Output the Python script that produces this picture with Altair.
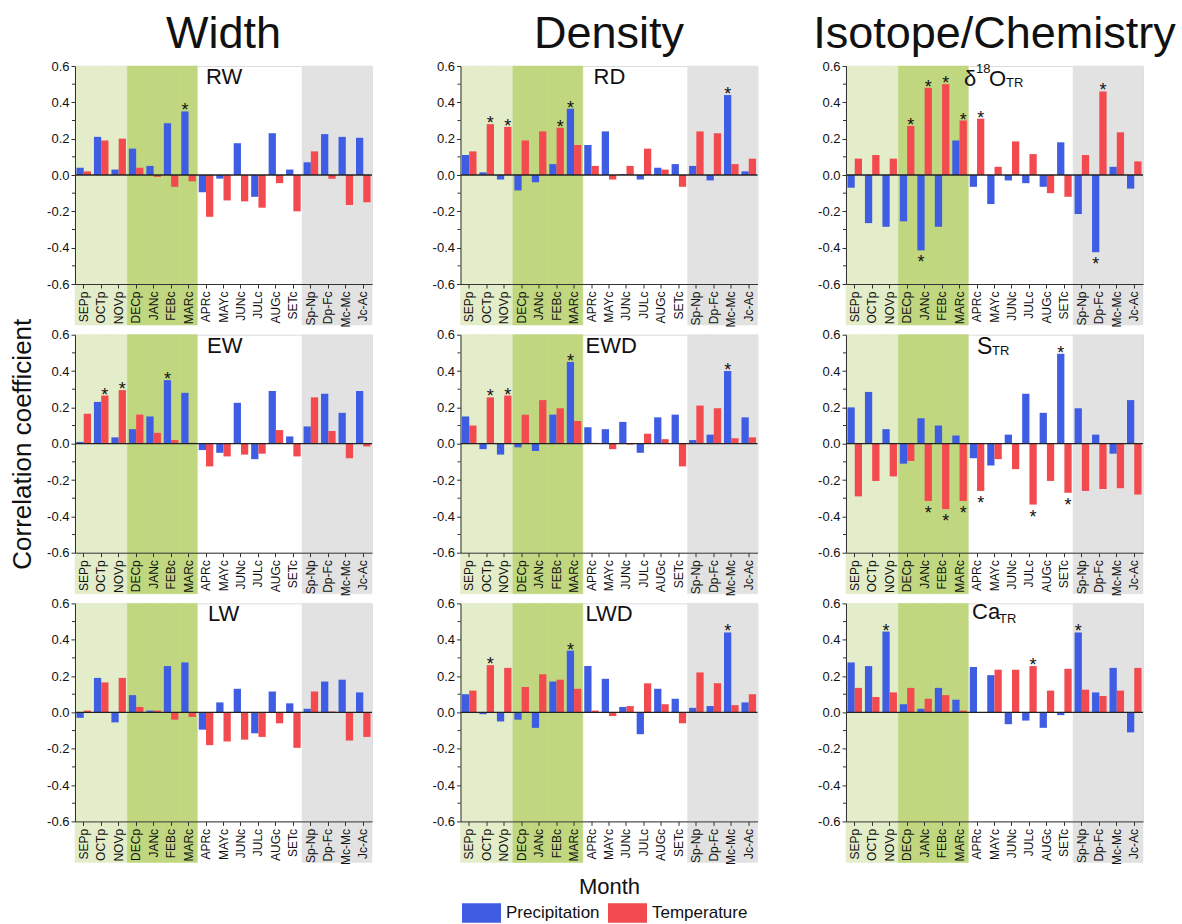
import altair as alt
import pandas as pd

# ---------------- data ----------------
months = ["SEPp", "OCTp", "NOVp", "DECp", "JANc", "FEBc", "MARc", "APRc", "MAYc",
          "JUNc", "JULc", "AUGc", "SETc", "Sp-Np", "Dp-Fc", "Mc-Mc", "Jc-Ac"]
zones = ["light"] * 3 + ["dark"] * 4 + ["white"] * 6 + ["grey"] * 4
series = ["Precipitation", "Temperature"]

rw_prec = [0.04, 0.21, 0.03, 0.145, 0.05, 0.285, 0.35, -0.095, -0.02, 0.175, -0.12, 0.23, 0.03, 0.07, 0.225, 0.21, 0.205]
rw_temp = [0.02, 0.19, 0.20, 0.04, -0.01, -0.065, -0.035, -0.23, -0.14, -0.145, -0.18, -0.045, -0.20, 0.13, -0.02, -0.165, -0.15]
rw_sig_prec = ["MARc"]
rw_sig_temp = []

rd_prec = [0.11, 0.015, -0.025, -0.085, -0.04, 0.06, 0.365, 0.165, 0.24, 0.005, -0.025, 0.04, 0.06, 0.05, -0.03, 0.44, 0.02]
rd_temp = [0.13, 0.28, 0.265, 0.19, 0.24, 0.26, 0.165, 0.05, -0.025, 0.05, 0.145, 0.03, -0.065, 0.24, 0.23, 0.06, 0.09]
rd_sig_prec = ["MARc", "Mc-Mc"]
rd_sig_temp = ["OCTp", "NOVp", "FEBc"]

o18_prec = [-0.07, -0.265, -0.285, -0.255, -0.415, -0.285, 0.19, -0.065, -0.16, -0.03, -0.045, -0.065, 0.18, -0.215, -0.425, 0.045, -0.075]
o18_temp = [0.09, 0.11, 0.09, 0.27, 0.48, 0.50, 0.30, 0.31, 0.045, 0.185, 0.115, -0.10, -0.12, 0.11, 0.46, 0.235, 0.075]
o18_sig_prec = ["JANc", "Dp-Fc"]
o18_sig_temp = ["DECp", "JANc", "FEBc", "MARc", "APRc", "Dp-Fc"]

ew_prec = [0.01, 0.23, 0.035, 0.08, 0.15, 0.35, 0.28, -0.035, -0.05, 0.225, -0.085, 0.29, 0.04, 0.095, 0.275, 0.17, 0.29]
ew_temp = [0.165, 0.265, 0.295, 0.16, 0.06, 0.02, 0.005, -0.125, -0.07, -0.06, -0.055, 0.075, -0.07, 0.255, 0.07, -0.08, -0.015]
ew_sig_prec = ["FEBc"]
ew_sig_temp = ["OCTp", "NOVp"]

ewd_prec = [0.15, -0.03, -0.06, -0.02, -0.04, 0.16, 0.45, 0.09, 0.08, 0.12, -0.05, 0.145, 0.16, 0.02, 0.05, 0.40, 0.145]
ewd_temp = [0.10, 0.255, 0.265, 0.16, 0.24, 0.195, 0.125, 0.005, -0.03, -0.005, 0.055, 0.025, -0.125, 0.21, 0.195, 0.03, 0.035]
ewd_sig_prec = ["MARc", "Mc-Mc"]
ewd_sig_temp = ["OCTp", "NOVp"]

s_prec = [0.20, 0.285, 0.08, -0.11, 0.14, 0.10, 0.045, -0.08, -0.12, 0.05, 0.275, 0.17, 0.495, 0.195, 0.05, -0.055, 0.24]
s_temp = [-0.29, -0.205, -0.18, -0.095, -0.315, -0.36, -0.315, -0.26, -0.085, -0.14, -0.335, -0.205, -0.27, -0.26, -0.25, -0.245, -0.28]
s_sig_prec = ["SETc"]
s_sig_temp = ["JANc", "FEBc", "MARc", "APRc", "JULc", "SETc"]

lw_prec = [-0.03, 0.19, -0.055, 0.095, 0.01, 0.255, 0.275, -0.095, 0.055, 0.13, -0.115, 0.115, 0.05, 0.02, 0.17, 0.18, 0.11]
lw_temp = [0.01, 0.165, 0.19, 0.03, 0.01, -0.04, -0.025, -0.18, -0.16, -0.15, -0.135, -0.06, -0.195, 0.115, 0.005, -0.155, -0.135]
lw_sig_prec = []
lw_sig_temp = []

lwd_prec = [0.10, -0.01, -0.05, -0.04, -0.085, 0.17, 0.34, 0.255, 0.185, 0.03, -0.12, 0.13, 0.075, 0.025, 0.035, 0.44, 0.055]
lwd_temp = [0.12, 0.26, 0.245, 0.14, 0.21, 0.18, 0.13, 0.01, -0.02, 0.035, 0.16, 0.045, -0.06, 0.22, 0.16, 0.04, 0.10]
lwd_sig_prec = ["MARc", "Mc-Mc"]
lwd_sig_temp = ["OCTp"]

ca_prec = [0.275, 0.255, 0.445, 0.045, 0.02, 0.135, 0.07, 0.25, 0.205, -0.065, -0.045, -0.085, -0.015, 0.44, 0.11, 0.245, -0.11]
ca_temp = [0.135, 0.085, 0.11, 0.135, 0.075, 0.095, 0.01, 0.0, 0.235, 0.235, 0.255, 0.12, 0.24, 0.125, 0.09, 0.12, 0.245]
ca_sig_prec = ["NOVp", "Sp-Np"]
ca_sig_temp = ["JULc"]

column_titles = ["Width", "Density", "Isotope/Chemistry"]
y_ticks = [-0.6, -0.4, -0.2, 0.0, 0.2, 0.4, 0.6]
y_minor = [-0.5, -0.3, -0.1, 0.1, 0.3, 0.5]

# ---------------- style ----------------
BLUE = "#3f5de2"
RED = "#f24a4e"
LIGHT = "#e3edc9"
DARK = "#c0d780"
GREY = "#e2e2e2"
AX = "#333333"
FONT = "Liberation Sans"
W, H = 297, 218
SHADE_EXTRA = 41

xscale = alt.Scale(domain=months, paddingInner=0, paddingOuter=0)
oscale = alt.Scale(domain=series, paddingInner=0, paddingOuter=0.2)
yscale = alt.Scale(domain=[-0.6, 0.6], nice=False, zero=False)
LEG = alt.Legend(title=None, orient="none", legendX=387, legendY=827, direction="horizontal",
                 symbolType="M-1,-0.5H1V0.5H-1Z", symbolSize=1521, symbolStrokeWidth=0,
                 labelFontSize=17, labelFont=FONT, labelColor="#111111", labelOffset=5,
                 columnPadding=8)
cenc = alt.Color("series:N", scale=alt.Scale(domain=series, range=[BLUE, RED]), legend=LEG)


def build_panel(prec, temp, sig_p, sig_t, labels, title=None, ytitle=None, xtitle=None):
    rows = []
    for m, p, t in zip(months, prec, temp):
        rows.append({"month": m, "series": "Precipitation", "value": p, "sig": m in sig_p})
        rows.append({"month": m, "series": "Temperature", "value": t, "sig": m in sig_t})
    df = pd.DataFrame(rows)
    bg = pd.DataFrame({"month": months, "zone": zones})

    xaxis = alt.Axis(title=xtitle, labelAngle=-90, labelFontSize=12, labelFont=FONT,
                     labelColor="#111111", tickSize=4, tickColor=AX, domainColor=AX,
                     labelPadding=3, zindex=1, titleFontSize=22, titleFont=FONT,
                     titleFontWeight="normal", titleColor="#111111", titlePadding=12)
    yaxis = alt.Axis(title=ytitle, values=y_ticks, grid=False, labelFontSize=13, labelFont=FONT,
                     labelColor="#111111", tickSize=4, tickColor=AX, domainColor=AX,
                     labelPadding=2, zindex=1,
                     labelExpr="datum.value < 0 ? '-' + format(-datum.value, '.1f') : format(datum.value, '.1f')",
                     titleFontSize=26, titleFont=FONT, titleFontWeight="normal",
                     titleColor="#111111", titlePadding=11)
    xenc = alt.X("month:N", scale=xscale, axis=xaxis)
    oenc = alt.XOffset("series:N", scale=oscale)
    yenc = alt.Y("value:Q", scale=yscale, axis=yaxis)

    layers = []
    for zone, col in [("light", LIGHT), ("dark", DARK), ("grey", GREY)]:
        layers.append(
            alt.Chart(bg).mark_rect(color=col, stroke=col, strokeWidth=0.6)
            .encode(x=xenc, y=alt.value(0), y2=alt.value(H + SHADE_EXTRA))
            .transform_filter(alt.datum.zone == zone)
        )
    layers.append(
        alt.Chart(pd.DataFrame({"value": y_minor})).mark_rule(color=AX, strokeWidth=1)
        .encode(y=yenc, x=alt.value(-3), x2=alt.value(0))
    )
    layers.append(
        alt.Chart(df).mark_bar().encode(x=xenc, xOffset=oenc, y=yenc, color=cenc)
    )
    layers.append(
        alt.Chart(pd.DataFrame({"value": [0.0]})).mark_rule(color="#222222", strokeWidth=1.3)
        .encode(y=yenc)
    )
    stars = df[df["sig"]]
    layers.append(
        alt.Chart(stars[stars["value"] > 0]).mark_text(text="*", fontSize=18, font=FONT, dy=5,
                                                       baseline="alphabetic", color="#111111")
        .encode(x=xenc, xOffset=oenc, y=yenc)
    )
    layers.append(
        alt.Chart(stars[stars["value"] < 0]).mark_text(text="*", fontSize=18, font=FONT, dy=18,
                                                       baseline="alphabetic", color="#111111")
        .encode(x=xenc, xOffset=oenc, y=yenc)
    )
    for txt, px, py, fs in labels:
        layers.append(
            alt.Chart(pd.DataFrame({"t": [txt]})).mark_text(align="left", baseline="alphabetic",
                                                            fontSize=fs, font=FONT, color="#111111")
            .encode(text="t:N", x=alt.value(px), y=alt.value(py))
        )
    props = dict(width=W, height=H)
    if title is not None:
        props["title"] = alt.TitleParams(title, fontSize=45, font=FONT, fontWeight="normal",
                                         anchor="middle", frame="group", offset=3, color="#111111")
    return alt.layer(*layers).properties(**props)


panels = [
    build_panel(rw_prec, rw_temp, rw_sig_prec, rw_sig_temp, [("RW", 131, 18, 22)], title=column_titles[0]),
    build_panel(rd_prec, rd_temp, rd_sig_prec, rd_sig_temp, [("RD", 133, 18, 22)], title=column_titles[1]),
    build_panel(o18_prec, o18_temp, o18_sig_prec, o18_sig_temp,
                [("δ", 118, 20, 22), ("18", 130, 7, 13), ("O", 143, 20, 22), ("TR", 160, 21, 13)],
                title=column_titles[2]),
    build_panel(ew_prec, ew_temp, ew_sig_prec, ew_sig_temp, [("EW", 132, 18, 22)],
                ytitle="Correlation coefficient"),
    build_panel(ewd_prec, ewd_temp, ewd_sig_prec, ewd_sig_temp, [("EWD", 125, 18, 22)]),
    build_panel(s_prec, s_temp, s_sig_prec, s_sig_temp, [("S", 131, 19, 23), ("TR", 146, 20, 13)]),
    build_panel(lw_prec, lw_temp, lw_sig_prec, lw_sig_temp, [("LW", 133, 18, 22)]),
    build_panel(lwd_prec, lwd_temp, lwd_sig_prec, lwd_sig_temp, [("LWD", 125, 18, 22)], xtitle="Month"),
    build_panel(ca_prec, ca_temp, ca_sig_prec, ca_sig_temp, [("Ca", 126, 16, 22), ("TR", 153, 20, 13)]),
]

chart = alt.concat(*panels, columns=3, bounds="flush",
                   spacing={"row": 50.7, "column": 88.5}).configure_view(
    stroke=None
).configure(
    padding={"left": 9, "top": 11, "right": 5, "bottom": 5}, background="white"
)

chart.save("out.html", embed_options={"renderer": "svg", "actions": False})
